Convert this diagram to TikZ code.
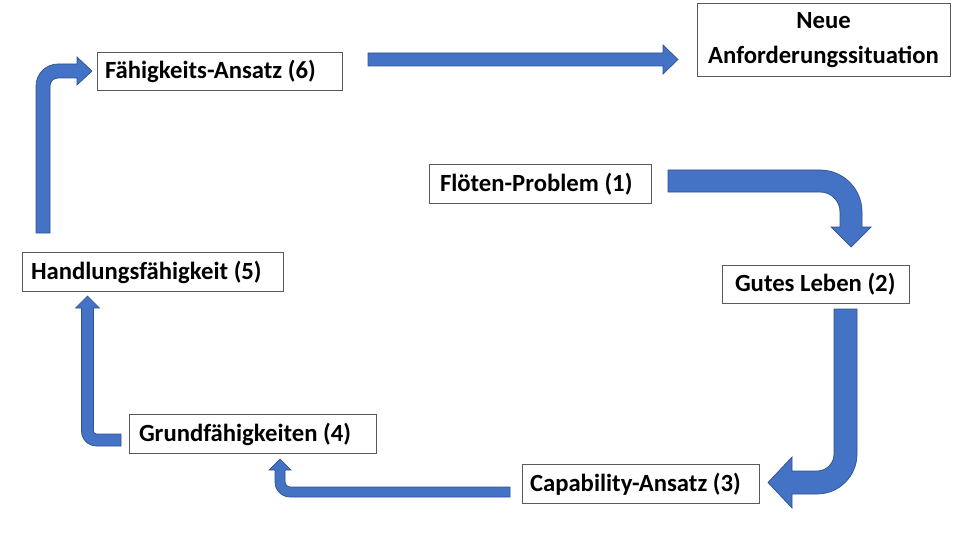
\documentclass[tikz,border=0pt]{standalone}
\usepackage{fontspec}
\setmainfont{Carlito}
\definecolor{arrowfill}{HTML}{4472C4}
\definecolor{arrowline}{HTML}{2F528F}
\definecolor{boxline}{HTML}{595959}
\newcommand\lbx[2]{\makebox[#1pt][l]{#2}}
\begin{document}
\begin{tikzpicture}[x=1pt,y=-1pt,
  box/.style={draw=boxline, line width=0.8pt, inner xsep=#1pt, inner ysep=0pt,
    font=\bfseries\fontsize{24.7}{35}\selectfont, text height=16pt, text depth=1pt},
  blockarrow/.style={fill=arrowfill, draw=arrowline, line width=0.7pt, line join=miter}]
\path[use as bounding box] (0,0) rectangle (960,540);

% boxes
\node[box=11, minimum height=39pt] (n1) at (540,183.5) {\lbx{200}{Flöten-Problem (1)}};
\node[box=13, minimum height=38pt] (n2) at (815.5,284) {\lbx{161}{Gutes Leben (2)}};
\node[box=8, minimum height=39pt] (n3) at (640.5,483.5) {\lbx{221}{Capability-Ansatz (3)}};
\node[box=10, minimum height=39pt] (n4) at (252.5,433.5) {\lbx{227}{Grundfähigkeiten (4)}};
\node[box=9, minimum height=39pt] (n5) at (152.5,271.5) {\lbx{243}{Handlungsfähigkeit (5)}};
\node[box=8, minimum height=38pt] (n6) at (219.5,71) {\lbx{229}{Fähigkeits-Ansatz (6)}};
\node[draw=boxline, line width=0.8pt, inner sep=0pt, minimum width=253pt, minimum height=73pt,
  align=center, font=\bfseries\fontsize{24.7}{35}\selectfont] (n7) at (823.5,40)
  {Neue\\Anforderungssituation};

% (6) -> new situation
\filldraw[blockarrow] (368,53) -- (663,53) -- (663,45) -- (678,59.5) -- (663,74) -- (663,66) -- (368,66) -- cycle;

% (1) -> (2)
\filldraw[blockarrow] (668,170) -- (820,170) arc[start angle=270,end angle=360,radius=42]
  -- (862,227) -- (871,227) -- (851,247) -- (831,227) -- (840,227) -- (840,212)
  arc[start angle=0,end angle=-90,radius=20] -- (668,192) -- cycle;

% (2) -> (3)
\filldraw[blockarrow] (834,309) -- (857,309) -- (857,454) arc[start angle=0,end angle=90,radius=40]
  -- (792,494) -- (792,508) -- (768,482.5) -- (792,457) -- (792,471) -- (817,471)
  arc[start angle=90,end angle=0,radius=17] -- cycle;

% (3) -> (4)
\filldraw[blockarrow] (510,487) -- (290,487) arc[start angle=90,end angle=180,radius=5]
  -- (285,470) -- (291,470) -- (280,459) -- (269,470) -- (275,470) -- (275,482)
  arc[start angle=180,end angle=90,radius=15] -- (510,497) -- cycle;

% (4) -> (5)
\filldraw[blockarrow] (121,434) -- (96.5,434) arc[start angle=90,end angle=180,radius=3]
  -- (93.5,308) -- (99.5,308) -- (87.5,296) -- (75.5,308) -- (81.5,308) -- (81.5,431)
  arc[start angle=180,end angle=90,radius=15] -- (121,446) -- cycle;

% (5) -> (6)
\filldraw[blockarrow] (36,233) -- (36,86) arc[start angle=180,end angle=270,radius=22]
  -- (77,64) -- (77,57) -- (92,71) -- (77,85) -- (77,78) -- (58,78)
  arc[start angle=270,end angle=180,radius=8] -- (50,233) -- cycle;
\end{tikzpicture}
\end{document}
